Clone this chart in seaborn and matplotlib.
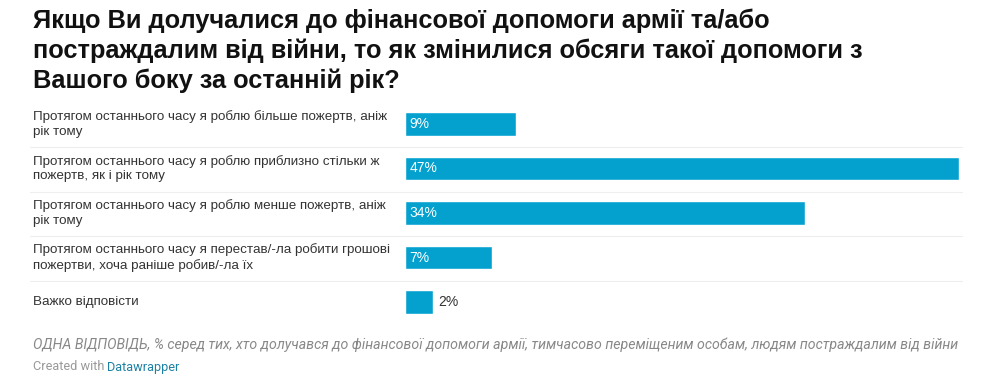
import numpy as np
import pandas as pd
import matplotlib
matplotlib.use("Agg")
import matplotlib.pyplot as plt
import matplotlib.transforms as mtransforms
import seaborn as sns

# chart data (bar lengths as measured, labels shown rounded)
answers = [
    "Протягом останнього часу я роблю більше пожертв, аніж\nрік тому",
    "Протягом останнього часу я роблю приблизно стільки ж\nпожертв, як і рік тому",
    "Протягом останнього часу я роблю менше пожертв, аніж\nрік тому",
    "Протягом останнього часу я перестав/-ла робити грошові\nпожертви, хоча раніше робив/-ла їх",
    "Важко відповісти",
]
shares = [9.4, 47.0, 33.9, 7.4, 2.4]
share_labels = ["9%", "47%", "34%", "7%", "2%"]

title = ("Якщо Ви долучалися до фінансової допомоги армії та/або\n"
         "постраждалим від війни, то як змінилися обсяги такої допомоги з\n"
         "Вашого боку за останній рік?")
note = ("ОДНА ВІДПОВІДЬ, % серед тих, хто долучався до фінансової допомоги армії, "
        "тимчасово переміщеним особам, людям постраждалим від війни")

df = pd.DataFrame({"answer": answers, "share": shares})

sns.set_theme(style="white")
plt.rcParams["font.family"] = ["Liberation Sans", "DejaVu Sans"]

W, H = 992, 380
fig = plt.figure(figsize=(W / 100, H / 100), dpi=100)

# bar area in pixels: x 405..959, rows from y~102 to ~324
left, right = 405 / W, 959 / W
top, bottom = 1 - 101.75 / H, 1 - 324.25 / H
ax = fig.add_axes([left, bottom, right - left, top - bottom])

bar_color = "#04a1cf"
sns.barplot(data=df, x="share", y="answer", color=bar_color, width=0.52,
            saturation=1, ax=ax, orient="h")
ax.set_xlim(0, max(shares))
ax.set_ylim(len(answers) - 0.5, -0.5)
ax.set_xlabel("")
ax.set_ylabel("")
ax.set_xticks([])
ax.set_yticks([])
for s in ax.spines.values():
    s.set_visible(False)

# row labels, separators and value labels
trans = mtransforms.blended_transform_factory(fig.transFigure, ax.transData)
for i, (lab, v, vl) in enumerate(zip(answers, shares, share_labels)):
    fig.text(33 / W, i, lab, transform=trans, fontsize=9.6, color="#333333",
             va="center", ha="left", linespacing=1.3)
    if v >= 5:
        ax.text(0.35, i, vl, color="white", fontsize=10, va="center", ha="left")
    else:
        ax.text(v + 0.45, i, vl, color="#333333", fontsize=10, va="center", ha="left")
    if i < len(answers) - 1:
        fig.add_artist(plt.Line2D([30 / W, 962 / W], [i + 0.52, i + 0.52],
                                  transform=trans, color="#eeeeee", lw=0.8))

fig.text(33 / W, 1 - 9 / H, title, fontsize=18.3, fontweight="bold", color="#111111",
         va="top", ha="left", linespacing=1.26)

fig.text(33 / W, 1 - 345 / H, note, fontsize=10.15, style="italic", color="#888888",
         va="center", ha="left", family=["Roboto", "Liberation Sans", "DejaVu Sans"])
t1 = fig.text(33 / W, 1 - 367 / H, "Created with ", fontsize=9.2, color="#999999",
              va="center", ha="left", family=["Roboto", "DejaVu Sans"])
fig.canvas.draw()
bb = t1.get_window_extent()
fig.text(bb.x1 / W, 1 - 367 / H, "Datawrapper", fontsize=9.2, color="#1d81a2",
         va="center", ha="left", family=["Roboto", "DejaVu Sans"])

fig.savefig("out.png", dpi=100)
